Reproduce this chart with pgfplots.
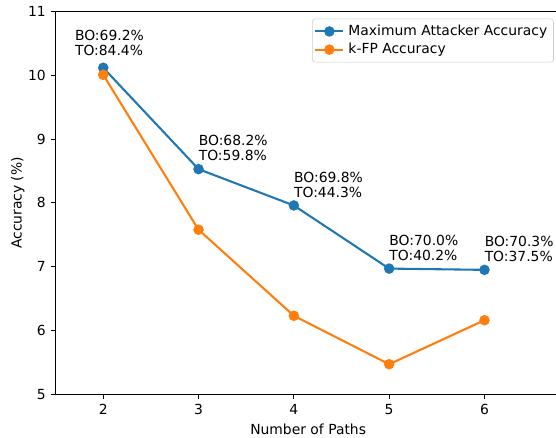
\documentclass[border=0pt]{standalone}
\usepackage{fontspec}
\setmainfont{DejaVu Sans}
\usepackage{pgfplots}
\pgfplotsset{compat=1.18}
\definecolor{czero}{HTML}{1F77B4}
\definecolor{cone}{HTML}{FF7F0E}
\begin{document}
\begin{tikzpicture}
\useasboundingbox (-40pt,-31pt) rectangle (360.3pt,283.8pt);
\begin{axis}[
  at={(0,0)}, anchor=south west,
  scale only axis, width=363.7pt, height=275.4pt,
  xmin=1.5, xmax=6.8, ymin=5, ymax=11,
  axis y line*=left, axis x line*=box,
  axis line style={line width=0.8pt, black},
  xtick={2,3,4,5,6}, ytick={5,6,7,8,9,10,11},
  tick align=outside, tick pos=left,
  major tick length=3.5pt,
  every tick/.style={line width=0.8pt, black},
  /pgf/number format/assume math mode=true,
  tick label style={font=\fontsize{10}{12}\selectfont},
  label style={font=\fontsize{10}{12}\selectfont},
  xlabel={Number of Paths}, ylabel={Accuracy (\%)},
  ylabel style={yshift=-4.3pt},
  legend style={at={(1,1)}, anchor=north east, xshift=-5pt, yshift=-5pt,
    draw=black!20, rounded corners=2pt, font=\fontsize{10}{12}\selectfont,
    inner xsep=1.5pt, inner ysep=3pt, row sep=1pt,
    nodes={inner xsep=3pt, inner ysep=1.5pt}},
  legend cell align=left,
  legend image code/.code={\draw[mark repeat=2,mark phase=2,#1] plot coordinates {(0pt,0pt)(10pt,0pt)(20pt,0pt)};},
]
\addplot[czero, line width=1.5pt, mark=*, mark size=3pt, mark options={solid}] coordinates {
  (2,10.12) (3,8.53) (4,7.96) (5,6.97) (6,6.95)};
\addlegendentry{Maximum Attacker Accuracy}
\addplot[cone, line width=1.5pt, mark=*, mark size=3pt, mark options={solid}] coordinates {
  (2,10.01) (3,7.58) (4,6.23) (5,5.47) (6,6.16)};
\addlegendentry{k-FP Accuracy}
\tikzset{ann/.style={anchor=base west, inner sep=0pt, font=\fontsize{10}{12}\selectfont}}
\node[ann, xshift=-20.5pt, yshift=9pt] at (axis cs:2,10.12) {TO:84.4\%};
\node[ann, xshift=-20.5pt, yshift=19.8pt] at (axis cs:2,10.12) {BO:69.2\%};
\node[ann, yshift=6pt] at (axis cs:3,8.53) {TO:59.8\%};
\node[ann, yshift=16.8pt] at (axis cs:3,8.53) {BO:68.2\%};
\node[ann, yshift=6pt] at (axis cs:4,7.96) {TO:44.3\%};
\node[ann, yshift=16.8pt] at (axis cs:4,7.96) {BO:69.8\%};
\node[ann, yshift=6pt] at (axis cs:5,6.97) {TO:40.2\%};
\node[ann, yshift=16.8pt] at (axis cs:5,6.97) {BO:70.0\%};
\node[ann, yshift=6pt] at (axis cs:6,6.95) {TO:37.5\%};
\node[ann, yshift=16.8pt] at (axis cs:6,6.95) {BO:70.3\%};
\end{axis}
\end{tikzpicture}
\end{document}
